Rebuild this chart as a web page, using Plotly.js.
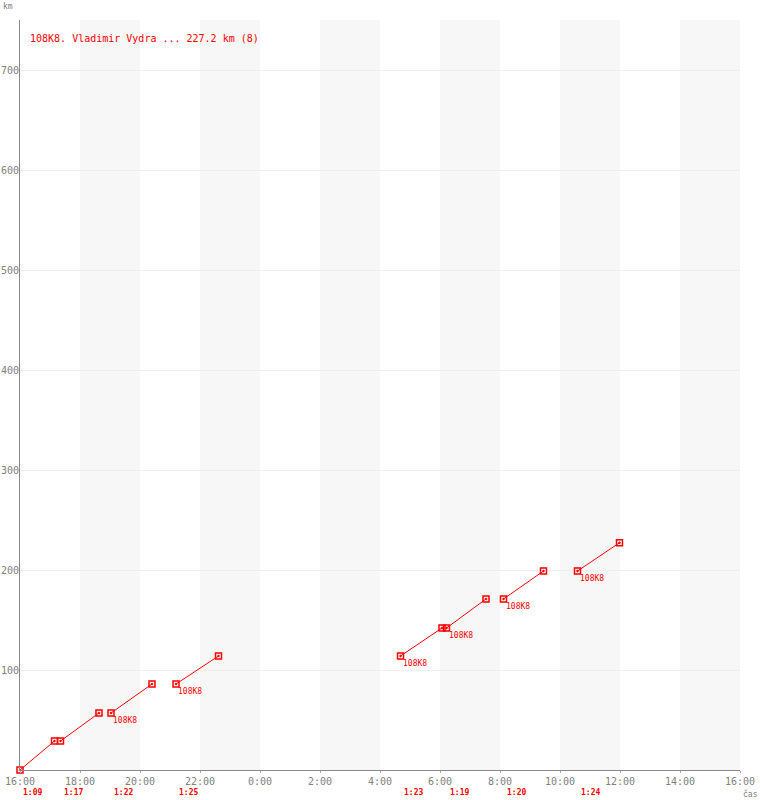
<!DOCTYPE html>
<html>
<head>
<meta charset="utf-8">
<script src="https://cdn.plot.ly/plotly-3.0.1.min.js"></script>
<style>html,body{margin:0;padding:0;background:#fff}#chart{width:760px;height:800px}</style>
</head>
<body>
<div id="chart"></div>
<script>
// Flight legs: start / end time, start / end distance (km)
var legStart = ["2000-01-01 16:00","2000-01-01 17:21","2000-01-01 19:02","2000-01-01 21:12","2000-01-02 04:41","2000-01-02 06:13","2000-01-02 08:07","2000-01-02 10:35"];
var legEnd   = ["2000-01-01 17:09","2000-01-01 18:38","2000-01-01 20:24","2000-01-01 22:37","2000-01-02 06:04","2000-01-02 07:32","2000-01-02 09:27","2000-01-02 11:59"];
var kmStart  = [0, 29, 57, 86, 114, 142, 171, 199];
var kmEnd    = [29, 57, 86, 114, 142, 171, 199, 227.2];
var durations = ["1:09","1:17","1:22","1:25","1:23","1:19","1:20","1:24"];
var legLabels = ["","","108K8","108K8","108K8","108K8","108K8","108K8"];
var titleText = "108K8. Vladimir Vydra ... 227.2 km (8)";
var yTicks = [100,200,300,400,500,600,700];
var shadeBands = [["2000-01-01 18:00","2000-01-01 20:00"],["2000-01-01 22:00","2000-01-02 00:00"],["2000-01-02 02:00","2000-01-02 04:00"],["2000-01-02 06:00","2000-01-02 08:00"],["2000-01-02 10:00","2000-01-02 12:00"],["2000-01-02 14:00","2000-01-02 16:00"]];

var RED = "#ff0000";
var GREY = "#808080";
var MONO = "DejaVu Sans Mono, monospace";
var traces = [];
for (var i = 0; i < legStart.length; i++) {
  traces.push({
    type: "scatter", mode: "lines+markers",
    x: [legStart[i], legEnd[i]], y: [kmStart[i], kmEnd[i]],
    line: {color: RED, width: 1},
    marker: {symbol: "square-open-dot", size: 6, color: RED, line: {width: 1.5, color: RED}},
    hoverinfo: "skip", showlegend: false, cliponaxis: false
  });
}

var annotations = [];
for (var j = 0; j < legStart.length; j++) {
  if (legLabels[j]) {
    annotations.push({x: legStart[j], y: kmStart[j], xref: "x", yref: "y", text: legLabels[j],
      showarrow: false, xanchor: "left", yanchor: "top", xshift: 0, yshift: -1,
      font: {family: MONO, size: 8, color: RED}});
  }
  annotations.push({x: legStart[j], y: 0, xref: "x", yref: "paper", text: "<b>" + durations[j] + "</b>",
    showarrow: false, xanchor: "left", yanchor: "middle", xshift: 1, yshift: -22,
    font: {family: MONO, size: 8, color: RED}});
}
annotations.push({xref: "paper", yref: "paper", x: 0, y: 1, xshift: -12, yshift: 14, text: "km",
  showarrow: false, xanchor: "center", yanchor: "middle", font: {family: MONO, size: 8, color: GREY}});
annotations.push({xref: "paper", yref: "paper", x: 1, y: 0, xshift: 10, yshift: -24, text: "čas", showarrow: false,
  xanchor: "center", yanchor: "middle", font: {family: MONO, size: 8, color: GREY}});

var shapes = shadeBands.map(function (b) {
  return {type: "rect", xref: "x", yref: "paper", x0: b[0], x1: b[1], y0: 0, y1: 1,
    fillcolor: "#f7f7f7", line: {width: 0}, layer: "below"};
});

var layout = {
  width: 760, height: 800,
  margin: {l: 20, r: 20, t: 20, b: 30},
  paper_bgcolor: "#ffffff", plot_bgcolor: "#ffffff",
  title: {text: titleText, xref: "container", yref: "container", x: 30 / 760, xanchor: "left",
    y: 1 - 38 / 800, yanchor: "middle", font: {family: MONO, size: 10, color: RED}},
  xaxis: {type: "date", range: ["2000-01-01 16:00", "2000-01-02 16:00"], tick0: "2000-01-01 16:00",
    dtick: 7200000, tickformat: "%-H:%M", showgrid: false, zeroline: false,
    showline: true, linecolor: "#888888", linewidth: 1, ticks: "outside", ticklen: 2, tickcolor: "#aaaaaa",
    tickfont: {family: MONO, size: 10, color: GREY}, fixedrange: true},
  yaxis: {range: [0, 750], tickvals: yTicks, showgrid: true, gridcolor: "#eeeeee", gridwidth: 1,
    zeroline: false, showline: true, linecolor: "#888888", linewidth: 1, ticks: "",
    ticklabelstandoff: -2,
    tickfont: {family: MONO, size: 10, color: GREY}, fixedrange: true},
  shapes: shapes,
  annotations: annotations,
  showlegend: false,
  hovermode: false
};

Plotly.newPlot("chart", traces, layout, {staticPlot: true, displayModeBar: false});
</script>
</body>
</html>
